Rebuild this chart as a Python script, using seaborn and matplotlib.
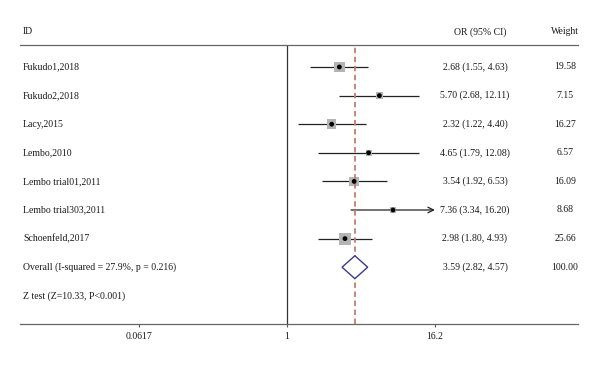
import numpy as np
import pandas as pd
import matplotlib
matplotlib.use('Agg')
from matplotlib import pyplot as plt
from matplotlib import transforms
import seaborn as sns

# Dữ liệu forest plot
studies = ['Fukudo1,2018', 'Fukudo2,2018', 'Lacy,2015', 'Lembo,2010',
           'Lembo trial01,2011', 'Lembo trial303,2011', 'Schoenfeld,2017']
odds = [2.68, 5.70, 2.32, 4.65, 3.54, 7.36, 2.98]
ci_low = [1.55, 2.68, 1.22, 1.79, 1.92, 3.34, 1.80]
ci_high = [4.63, 12.11, 4.40, 12.08, 6.53, 16.20, 4.93]
weights = [19.58, 7.15, 16.27, 6.57, 16.09, 8.68, 25.66]
overall = [3.59, 2.82, 4.57]
overall_label = 'Overall (I-squared = 27.9%, p = 0.216)'
ztest_label = 'Z test (Z=10.33, P<0.001)'
tick_vals = [0.0617, 1, 16.2]
tick_labels = ['0.0617', '1', '16.2']

df = pd.DataFrame({'study': studies, 'OR': odds, 'lo': ci_low, 'hi': ci_high,
                   'w': weights, 'row': range(len(studies))})

sns.set_style('white')
plt.rcParams['font.family'] = ['Liberation Serif', 'DejaVu Serif']
fs = 7
tc = '#1a1a1a'

fig = plt.figure(figsize=(6, 3.65), dpi=100)
ax = fig.add_axes([20/600, 41/365, 558/600, 279/365])
ax.set_xscale('log')
ax.set_xlim(np.exp(-5.028), np.exp(5.48))
ax.set_ylim(8.986, -0.769)

# duong tham chieu
ax.axvline(1, color='#333333', lw=0.9, zorder=1)
ax.axvline(overall[0], color='#c27f6c', lw=1.3, ls=(0, (3, 2)), zorder=4)

# khoang tin cay
x_max = tick_vals[-1]
for _, r in df.iterrows():
    if r['hi'] >= x_max:
        ax.annotate('', xy=(x_max, r['row']), xytext=(r['lo'], r['row']),
                    arrowprops=dict(arrowstyle='->', lw=0.9, color='#222222',
                                    shrinkA=0, shrinkB=0), zorder=2)
    else:
        ax.hlines(r['row'], r['lo'], r['hi'], color='#222222', lw=0.9, zorder=2)

# o vuong theo trong so
sns.scatterplot(data=df, x='OR', y='row', size='w',
                sizes=(2.9*min(weights), 2.9*max(weights)),
                marker='s', color='#b4b4b4', edgecolor='none', legend=False,
                ax=ax, zorder=3)
sns.scatterplot(data=df, x='OR', y='row', marker='o', s=12, color='black',
                edgecolor='none', legend=False, ax=ax, zorder=5)

# kim cuong tong hop
yo = len(studies)
h = 0.4
ax.fill([overall[1], overall[0], overall[2], overall[0]],
        [yo, yo - h, yo, yo + h], facecolor='white', edgecolor='#3d3a86',
        lw=1.0, zorder=6)

ax.set_xticks(tick_vals)
ax.set_xticklabels(tick_labels)
ax.minorticks_off()
ax.set_yticks([])
ax.set_xlabel('')
ax.set_ylabel('')
ax.tick_params(axis='x', length=2.5, width=0.8, color='#555555', pad=3.5,
               labelsize=fs, labelcolor=tc, direction='out', bottom=True)
for s in ['left', 'right']:
    ax.spines[s].set_visible(False)
for s in ['top', 'bottom']:
    ax.spines[s].set_color('#666666')
    ax.spines[s].set_linewidth(0.9)

# cot van ban
tr = transforms.blended_transform_factory(fig.transFigure, ax.transData)
hy = -1.224
ax.text(23/600, hy, 'ID', transform=tr, fontsize=fs, color=tc, va='center', clip_on=False)
ax.text(480/600, hy, 'OR (95% CI)', transform=tr, fontsize=fs, color=tc,
        va='center', ha='center', clip_on=False)
ax.text(565/600, hy, 'Weight', transform=tr, fontsize=fs, color=tc,
        va='center', ha='center', clip_on=False)

for _, r in df.iterrows():
    ax.text(23/600, r['row'], r['study'], transform=tr, fontsize=fs, color=tc, va='center')
    ax.text(475/600, r['row'], f"{r['OR']:.2f} ({r['lo']:.2f}, {r['hi']:.2f})",
            transform=tr, fontsize=fs, color=tc, va='center', ha='center')
    ax.text(565/600, r['row'], f"{r['w']:.2f}", transform=tr, fontsize=fs,
            color=tc, va='center', ha='center')

ax.text(23/600, yo, overall_label, transform=tr, fontsize=fs, color=tc, va='center')
ax.text(475/600, yo, f"{overall[0]:.2f} ({overall[1]:.2f}, {overall[2]:.2f})",
        transform=tr, fontsize=fs, color=tc, va='center', ha='center')
ax.text(565/600, yo, '100.00', transform=tr, fontsize=fs, color=tc,
        va='center', ha='center')
ax.text(23/600, yo + 1, ztest_label, transform=tr, fontsize=fs, color=tc, va='center')

fig.savefig('out.png', dpi=100)
